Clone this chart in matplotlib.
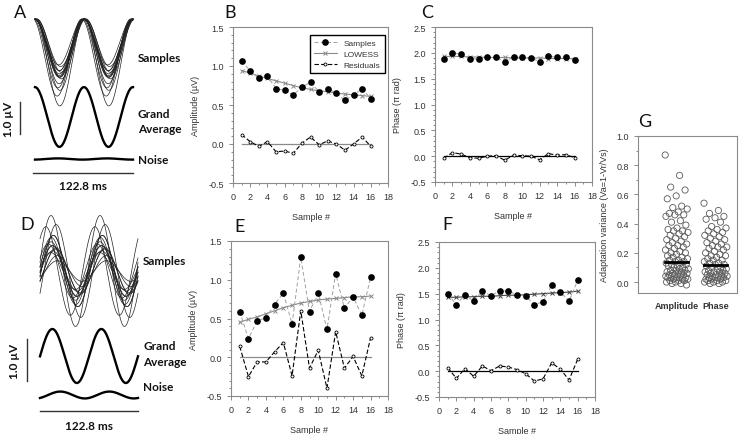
import numpy as np
import matplotlib.pyplot as plt
from matplotlib.ticker import AutoMinorLocator, MultipleLocator
from matplotlib.lines import Line2D

plt.rcParams['font.family'] = ['Liberation Sans', 'DejaVu Sans']

sample_no = np.arange(1, 17)

# B: amplitude, stable subject
amp_b = [1.06, 0.94, 0.84, 0.87, 0.71, 0.69, 0.63, 0.73,
         0.79, 0.67, 0.71, 0.65, 0.56, 0.63, 0.71, 0.58]
lowess_amp_b = [0.94, 0.91, 0.87, 0.84, 0.81, 0.78, 0.75, 0.72,
                0.70, 0.68, 0.67, 0.65, 0.64, 0.63, 0.62, 0.61]
resid_amp_b = [0.12, 0.03, -0.03, 0.03, -0.10, -0.09, -0.12, 0.01,
               0.09, -0.01, 0.04, 0.00, -0.08, 0.00, 0.09, -0.03]

# C: phase, stable subject
phase_c = [1.89, 2.00, 1.97, 1.89, 1.88, 1.91, 1.91, 1.83,
           1.92, 1.91, 1.90, 1.83, 1.94, 1.91, 1.92, 1.86]
lowess_phase_c = [1.93, 1.93, 1.93, 1.92, 1.92, 1.91, 1.91, 1.91,
                  1.90, 1.90, 1.90, 1.90, 1.89, 1.89, 1.89, 1.89]
resid_phase_c = [-0.04, 0.07, 0.04, -0.03, -0.04, 0.00, 0.01, -0.08,
                 0.02, 0.01, 0.00, -0.07, 0.05, 0.02, 0.03, -0.03]

# E: amplitude, variable subject
amp_e = [0.59, 0.24, 0.47, 0.51, 0.68, 0.83, 0.43, 1.29,
         0.59, 0.83, 0.36, 1.08, 0.63, 0.78, 0.54, 1.03]
lowess_amp_e = [0.45, 0.49, 0.52, 0.56, 0.60, 0.64, 0.67, 0.70,
                0.72, 0.74, 0.75, 0.76, 0.77, 0.78, 0.78, 0.79]
resid_amp_e = [0.14, -0.25, -0.06, -0.06, 0.07, 0.19, -0.24, 0.60,
               -0.14, 0.09, -0.40, 0.33, -0.14, 0.01, -0.24, 0.25]

# F: phase, variable subject
phase_f = [1.50, 1.29, 1.48, 1.35, 1.55, 1.46, 1.56, 1.55,
           1.48, 1.45, 1.29, 1.34, 1.66, 1.54, 1.35, 1.76]
lowess_phase_f = [1.43, 1.43, 1.44, 1.44, 1.45, 1.45, 1.46, 1.47,
                  1.47, 1.48, 1.49, 1.50, 1.51, 1.52, 1.53, 1.55]
resid_phase_f = [0.07, -0.14, 0.05, -0.10, 0.10, 0.01, 0.10, 0.08,
                 0.03, -0.05, -0.19, -0.15, 0.16, 0.04, -0.17, 0.23]

# noise traces (amplitude uV, phase pi rad)
noise_a = (0.015, 1.06)
noise_d = (0.08, 1.17)

# G: adaptation variance
g_labels = ["Amplitude", "Phase"]
va_amplitude = [0.87, 0.73, 0.65, 0.63, 0.59, 0.57, 0.52, 0.51, 0.50, 0.48,
                0.47, 0.46, 0.46, 0.45, 0.42, 0.41, 0.39, 0.37, 0.36, 0.35,
                0.35, 0.34, 0.33, 0.32, 0.31, 0.30, 0.29, 0.28, 0.27, 0.26,
                0.25, 0.25, 0.24, 0.23, 0.22, 0.21, 0.20, 0.20, 0.19, 0.18,
                0.17, 0.17, 0.16, 0.15, 0.15, 0.14, 0.14, 0.13, 0.13, 0.12,
                0.12, 0.11, 0.11, 0.10, 0.10, 0.09, 0.09, 0.08, 0.08, 0.08,
                0.07, 0.07, 0.06, 0.06, 0.06, 0.05, 0.05, 0.05, 0.04, 0.04,
                0.04, 0.03, 0.03, 0.03, 0.02, 0.02, 0.02, 0.01, 0.01, 0.01,
                0.00, 0.00, -0.01, -0.01, -0.02]
va_phase = [0.54, 0.49, 0.47, 0.45, 0.44, 0.43, 0.41, 0.38, 0.37, 0.36,
            0.35, 0.34, 0.33, 0.32, 0.31, 0.30, 0.29, 0.28, 0.27, 0.26,
            0.25, 0.24, 0.24, 0.23, 0.22, 0.21, 0.20, 0.19, 0.18, 0.18,
            0.17, 0.16, 0.15, 0.15, 0.14, 0.13, 0.13, 0.12, 0.12, 0.11,
            0.10, 0.10, 0.09, 0.09, 0.08, 0.08, 0.07, 0.07, 0.07, 0.06,
            0.06, 0.05, 0.05, 0.05, 0.04, 0.04, 0.04, 0.03, 0.03, 0.03,
            0.02, 0.02, 0.02, 0.01, 0.01, 0.01, 0.00, 0.00, 0.00, -0.01,
            -0.01]
va_means = [0.138, 0.12]

TXT = '#333333'
SPINE = '#8a8a8a'
W, H = 754, 435


def px_axes(left, right, top, bottom):
    return fig.add_axes([left / W, 1 - bottom / H, (right - left) / W, (bottom - top) / H])


def style(ax):
    for s in ax.spines.values():
        s.set_color(SPINE)
        s.set_linewidth(0.8)
    ax.tick_params(which='both', direction='out', color=SPINE, labelcolor=TXT,
                   labelsize=6.5, width=0.7)
    ax.tick_params(which='major', length=3)
    ax.tick_params(which='minor', length=1.5)


def scatter_panel(ax, samples, lowess, resid, ylim, ylabel, zero_col, lowess_col):
    ax.plot(sample_no, samples, ls=(0, (4, 2.5)), color='#a0a0a0', lw=0.7,
            marker='o', ms=3.8, mfc='k', mec='k', zorder=4)
    ax.plot(sample_no, lowess, color=lowess_col, lw=0.8, marker='x', ms=3.3,
            mew=0.7, zorder=3)
    ax.plot([1, 16], [0, 0], color=zero_col, lw=0.9, zorder=2)
    ax.plot(sample_no, resid, ls=(0, (4, 2)), color='k', lw=0.8, marker='o',
            ms=2.2, mfc='white', mec='k', mew=0.6, zorder=3)
    ax.set_xlim(0, 18)
    ax.set_ylim(*ylim)
    ax.xaxis.set_major_locator(MultipleLocator(2))
    ax.xaxis.set_minor_locator(AutoMinorLocator(2))
    ax.yaxis.set_major_locator(MultipleLocator(0.5))
    ax.yaxis.set_minor_locator(AutoMinorLocator(5))
    ax.yaxis.set_major_formatter(plt.FormatStrFormatter('%.1f'))
    ax.set_xlabel('Sample #', fontsize=6.5, color=TXT, labelpad=8)
    ax.set_ylabel(ylabel, fontsize=6.5, color=TXT, labelpad=6)
    style(ax)


fig = plt.figure(figsize=(W / 100, H / 100), dpi=100)

ax_b = px_axes(233, 388, 28, 184)
scatter_panel(ax_b, amp_b, lowess_amp_b, resid_amp_b, (-0.5, 1.5),
              'Amplitude (µV)', '#8a8a8a', '#8a8a8a')
handles = [
    Line2D([], [], ls=(0, (4, 2.5)), color='#a0a0a0', lw=0.7, marker='o', ms=3.8, mfc='k', mec='k'),
    Line2D([], [], color='#8a8a8a', lw=0.8, marker='x', ms=3.3, mew=0.7),
    Line2D([], [], ls=(0, (4, 2)), color='k', lw=0.8, marker='o', ms=2.2, mfc='white', mec='k', mew=0.6),
]
leg = ax_b.legend(handles, ['Samples', 'LOWESS', 'Residuals'], loc='upper right',
                  bbox_to_anchor=(1.005, 0.975), fontsize=6, handlelength=2.8,
                  fancybox=False, framealpha=1, edgecolor='k', borderpad=0.5,
                  labelspacing=0.35, handletextpad=0.8)
leg.get_frame().set_linewidth(1.0)
for t in leg.get_texts():
    t.set_color(TXT)

ax_c = px_axes(435, 592, 28, 183)
scatter_panel(ax_c, phase_c, lowess_phase_c, resid_phase_c, (-0.5, 2.5),
              'Phase (π rad)', 'k', '#8a8a8a')

ax_e = px_axes(231, 388, 242, 397)
scatter_panel(ax_e, amp_e, lowess_amp_e, resid_amp_e, (-0.5, 1.5),
              'Amplitude (µV)', '#8a8a8a', '#8a8a8a')

ax_f = px_axes(439, 595, 243, 398)
scatter_panel(ax_f, phase_f, lowess_phase_f, resid_phase_f, (-0.5, 2.5),
              'Phase (π rad)', 'k', '#444444')

# G
ax_g = px_axes(638, 737, 137, 294)
for i, vals in enumerate([va_amplitude, va_phase]):
    n = len(vals)
    jitter = ((np.arange(n) * 0.618034) % 1 - 0.5) * 0.6
    ax_g.scatter(i + 1 + jitter, vals, s=20, facecolors='none',
                 edgecolors='#5a5a5a', linewidths=0.6, zorder=2)
    ax_g.plot([i + 1 - 0.3, i + 1 + 0.3], [va_means[i]] * 2, color='k', lw=2, zorder=3)
ax_g.set_xlim(0, 2.55)
ax_g.set_ylim(-0.075, 1.0)
ax_g.set_xticks([1, 2])
ax_g.set_xticklabels(g_labels, fontweight='bold')
ax_g.yaxis.set_major_locator(MultipleLocator(0.2))
ax_g.yaxis.set_minor_locator(AutoMinorLocator(2))
ax_g.yaxis.set_major_formatter(plt.FormatStrFormatter('%.1f'))
ax_g.set_ylabel('Adaptation variance (Va=1-Vr/Vs)', fontsize=6.5, color=TXT, labelpad=5)
style(ax_g)
ax_g.tick_params(axis='x', length=0, pad=6)

# overlay in pixel coordinates for waveform panels and letters
ov = fig.add_axes([0, 0, 1, 1], zorder=5)
ov.set_xlim(0, W)
ov.set_ylim(H, 0)
ov.axis('off')
ov.patch.set_visible(False)

theta = np.linspace(0, 4 * np.pi, 400)
k_a, k_d = 41, 43

# A waveforms
xa = 35 + theta / (4 * np.pi) * 98
mean_ph_c = np.mean(phase_c)
waves_a = []
for amp, ph in zip(amp_b, phase_c):
    w = amp * np.cos(theta + (ph - mean_ph_c) * np.pi)
    waves_a.append(w)
    ov.plot(xa, 20 + k_a * (amp - w), color='#222222', lw=0.5)
ov.plot(xa, 118 - k_a * np.mean(waves_a, axis=0), color='k', lw=1.7)
ov.plot(xa, 160 - k_a * noise_a[0] * np.cos(theta + noise_a[1] * np.pi), color='k', lw=1.7)

# D waveforms
xd = 40 + theta / (4 * np.pi) * 98
waves_d = []
for amp, ph in zip(amp_e, phase_f):
    w = amp * np.cos(theta + ph * np.pi)
    waves_d.append(w)
    ov.plot(xd, 272 - k_d * w, color='#222222', lw=0.5)
ov.plot(xd, 357 - k_d * np.mean(waves_d, axis=0), color='k', lw=1.7)
ov.plot(xd, 396 - k_d * noise_d[0] * np.cos(theta + noise_d[1] * np.pi), color='k', lw=1.7)

lab = dict(family=['Lato', 'DejaVu Sans'], fontweight='bold', fontsize=8.5, color='#111111')
for x0, ys in [(138, [(58, 'Samples'), (115, 'Grand'), (130, 'Average'), (161, 'Noise')]),
               (143, [(262, 'Samples'), (347, 'Grand'), (363, 'Average'), (388, 'Noise')])]:
    for y0, s in ys:
        ov.text(x0, y0, s, ha='left', va='center', **lab)

# scale bars
ov.plot([20, 20], [103, 135], color='#333333', lw=1)
ov.text(9, 119, '1.0 µV', rotation=90, ha='center', va='center', **lab)
ov.plot([33, 133], [174, 174], color='#333333', lw=1)
ov.text(83, 187, '122.8 ms', ha='center', va='center', **lab)
ov.plot([27, 27], [340, 382], color='#333333', lw=1)
ov.text(15, 361, '1.0 µV', rotation=90, ha='center', va='center', **lab)
ov.plot([40, 138], [412, 412], color='#333333', lw=1)
ov.text(89, 427, '122.8 ms', ha='center', va='center', **lab)

letters = [('A', 20, 13), ('B', 230, 13), ('C', 427, 13), ('D', 27, 225),
           ('E', 240, 227), ('F', 447, 225), ('G', 645, 122)]
for s, x0, y0 in letters:
    ov.text(x0, y0, s, ha='center', va='center', fontsize=13,
            family=['Lato', 'DejaVu Sans'], color='#111111')

fig.savefig('out.png', dpi=100)
